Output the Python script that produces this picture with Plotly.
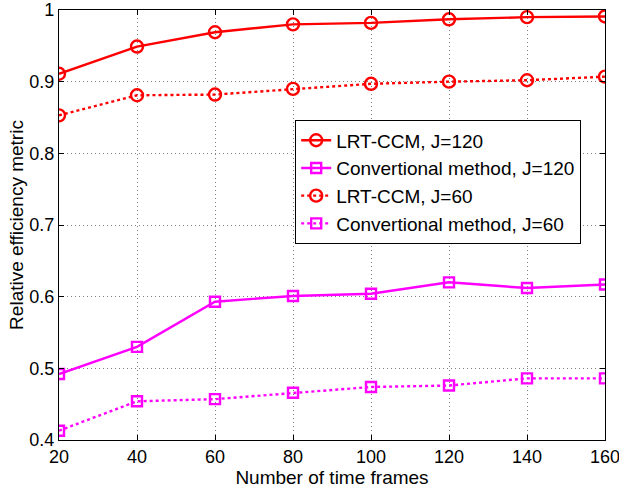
import plotly.graph_objects as go

frames = [20, 40, 60, 80, 100, 120, 140, 160]
lrt_j120 = [0.911, 0.949, 0.969, 0.980, 0.982, 0.987, 0.990, 0.991]
conv_j120 = [0.492, 0.530, 0.593, 0.601, 0.604, 0.620, 0.612, 0.617]
lrt_j60 = [0.853, 0.881, 0.882, 0.890, 0.897, 0.900, 0.902, 0.907]
conv_j60 = [0.413, 0.454, 0.457, 0.466, 0.474, 0.476, 0.486, 0.486]

x_ticks = [20, 40, 60, 80, 100, 120, 140, 160]
y_ticks = [0.4, 0.5, 0.6, 0.7, 0.8, 0.9, 1.0]
y_tick_labels = ["0.4", "0.5", "0.6", "0.7", "0.8", "0.9", "1"]

RED = "#ff0000"
MAG = "#ff00ff"
FONT = "Liberation Sans, Arial"

fig = go.Figure()
fig.add_trace(go.Scatter(x=frames, y=lrt_j120, mode="lines+markers", name="LRT-CCM, J=120",
                         line=dict(color=RED, width=2.4),
                         marker=dict(symbol="circle-open", size=12, color=RED, line=dict(width=2.4, color=RED))))
fig.add_trace(go.Scatter(x=frames, y=conv_j120, mode="lines+markers", name="Convertional method, J=120",
                         line=dict(color=MAG, width=2.4),
                         marker=dict(symbol="square-open", size=10, color=MAG, line=dict(width=2.4, color=MAG))))
fig.add_trace(go.Scatter(x=frames, y=lrt_j60, mode="lines+markers", name="LRT-CCM, J=60",
                         line=dict(color=RED, width=2.4, dash="dot"),
                         marker=dict(symbol="circle-open", size=12, color=RED, line=dict(width=2.4, color=RED))))
fig.add_trace(go.Scatter(x=frames, y=conv_j60, mode="lines+markers", name="Convertional method, J=60",
                         line=dict(color=MAG, width=2.4, dash="dot"),
                         marker=dict(symbol="square-open", size=10, color=MAG, line=dict(width=2.4, color=MAG))))

axis_common = dict(showline=True, linecolor="black", linewidth=1.3, mirror="ticks",
                   ticks="inside", ticklen=5, tickcolor="black",
                   showgrid=True, gridcolor="#7f7f7f", griddash="1px,3px", gridwidth=1,
                   zeroline=False, automargin=False, ticklabeloverflow="allow",
                   tickfont=dict(family=FONT, size=18, color="black"))

fig.update_xaxes(range=[20, 160], tickvals=x_ticks,
                 title=dict(text="Number of time frames", font=dict(family=FONT, size=19, color="black"), standoff=0),
                 **axis_common)
fig.update_yaxes(range=[0.4, 1.0], tickvals=y_ticks, ticktext=y_tick_labels,
                 title=dict(text="Relative efficiency metric", font=dict(family=FONT, size=19, color="black"), standoff=0),
                 **axis_common)

fig.update_layout(
    width=619, height=488,
    margin=dict(l=59, r=14, t=10, b=48),
    plot_bgcolor="white", paper_bgcolor="white",
    font=dict(family=FONT, color="black"),
    legend=dict(x=0.432, y=0.744, xanchor="left", yanchor="top",
                bordercolor="black", borderwidth=1.3, bgcolor="white",
                font=dict(family=FONT, size=19, color="black"),
                tracegroupgap=0, itemwidth=30),
    showlegend=True,
)

# remove the page's default 8px body margin so the figure sits at the window origin
fig.write_html("out.html",
               config={"displayModeBar": False},
               post_script="document.body.style.margin='0';document.body.style.overflow='hidden';")
